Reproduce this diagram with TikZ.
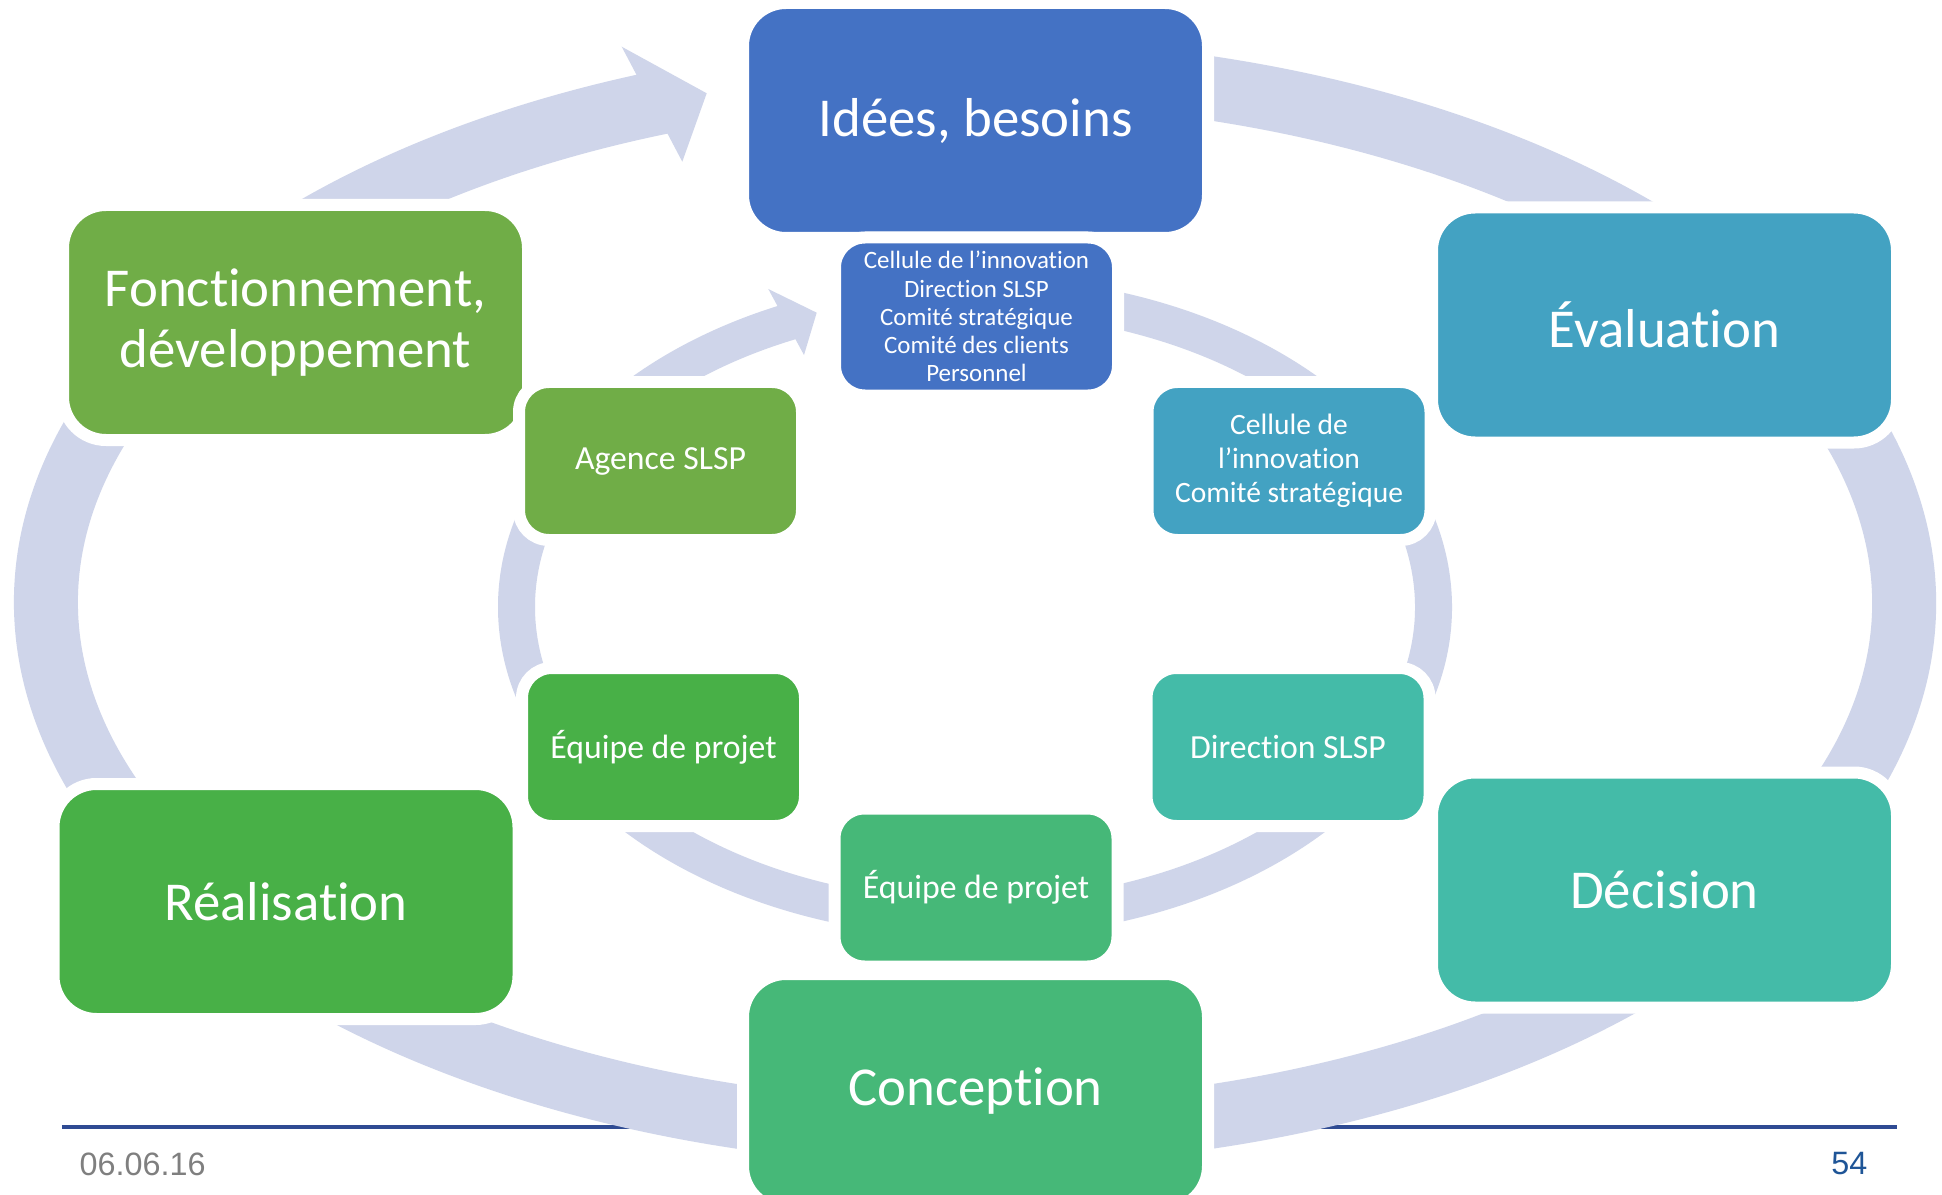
\documentclass[tikz,border=0pt]{standalone}
\usepackage{fontspec}
\setmainfont{Carlito}[Ligatures=NoCommon]
\newfontfamily\footfont{Liberation Sans}
\usepackage{xcolor}
\usetikzlibrary{positioning,calc}
\definecolor{ideeBlue}{HTML}{4472C4}
\definecolor{evalTeal}{HTML}{43A2C2}
\definecolor{decTeal}{HTML}{44BBA8}
\definecolor{concGreen}{HTML}{46B878}
\definecolor{realGreen}{HTML}{48B047}
\definecolor{fonctGreen}{HTML}{70AD47}
\definecolor{ringLav}{HTML}{CFD5EA}
\definecolor{footNavy}{HTML}{2F4B93}
\definecolor{footGrey}{HTML}{7F7F7F}
\definecolor{pageBlue}{HTML}{1F5597}

\begin{document}
\begin{tikzpicture}[
  stage/.style={rectangle, rounded corners=0.43cm, draw=white, line width=0.12cm,
    minimum width=4.65cm, minimum height=2.35cm, inner sep=0pt, align=center,
    text=white, font=\fontsize{15.6}{17.4}\selectfont},
  actor/.style={rectangle, rounded corners=0.30cm, draw=white, line width=0.12cm,
    minimum width=2.83cm, minimum height=1.58cm, inner sep=0pt, align=center,
    text=white, font=\fontsize{9.6}{11.5}\selectfont},
  ring/.style={draw=ringLav, line width=#1},
]

%% COPY-START =========================================================

\def\pageW{19.42}
\def\pageH{11.94}
\def\oRx{9.29}        % outer ring, x radius
\def\oRy{5.315}       % outer ring, y radius
\def\iRx{4.585}       % inner ring, x radius
\def\iRy{3.12}        % inner ring, y radius

% --- PAGE ---
\useasboundingbox (0,0) rectangle (\pageW,\pageH);
\clip (0,0) rectangle (\pageW,\pageH);
\fill[white] (0,0) rectangle (\pageW,\pageH);

% --- FOOTER RULE (runs under the rings) ---
\coordinate (footL) at (0.62,0.67);
\coordinate (footR) at (18.97,0.67);
\draw[footNavy, line width=1pt] (footL) -- (footR);

% --- OUTER RING: clockwise, arrow head before the first stage ---
\coordinate (outerC) at (9.75,5.915);
\draw[ring=0.64cm]
  ([shift={(100:\oRx cm and \oRy cm)}]outerC)
  arc[start angle=100, end angle=-250.5, x radius=\oRx cm, y radius=\oRy cm];
\fill[ringLav] (6.217,11.473) -- (7.067,11.007) -- (6.823,10.323) -- cycle;

% --- INNER RING ---
\coordinate (innerC) at (9.75,5.87);
\draw[ring=0.37cm]
  ([shift={(95:\iRx cm and \iRy cm)}]innerC)
  arc[start angle=95, end angle=-246.7, x radius=\iRx cm, y radius=\iRy cm];
\fill[ringLav] (7.683,9.05) -- (8.167,8.813) -- (8.04,8.39) -- cycle;

% --- STAGES (outer boxes) ---
\node[stage, fill=ideeBlue]   (idees)          at (9.755,10.735) {Idées, besoins};
\node[stage, fill=evalTeal]   (evaluation)     at (16.645,8.69)  {Évaluation};
\node[stage, fill=decTeal]    (decision)       at (16.645,3.04)  {Décision};
\node[stage, fill=concGreen]  (conception)     at (9.755,1.025)  {Conception};
\node[stage, fill=realGreen]  (realisation)    at (2.86,2.925)   {Réalisation};
\node[stage, fill=fonctGreen] (fonctionnement) at (2.955,8.715)  {Fonctionnement,\\développement};

% --- ACTORS (inner boxes) ---
\node[actor, fill=ideeBlue, font=\fontsize{7.1}{8}\selectfont] (ideesActors) at (9.765,8.775)
  {Cellule de l’innovation\\Direction SLSP\\Comité stratégique\\Comité des clients\\Personnel};
\node[actor, fill=evalTeal, font=\fontsize{8.4}{9.7}\selectfont] (evalActors) at (12.89,7.33)
  {Cellule de\\l’innovation\\Comité stratégique};
\node[actor, fill=decTeal]    (decisionActors)    at (12.88,4.47)  {Direction SLSP};
\node[actor, fill=concGreen]  (conceptionActors)  at (9.76,3.065)  {Équipe de projet};
\node[actor, fill=realGreen]  (realisationActors) at (6.635,4.47)  {Équipe de projet};
\node[actor, fill=fonctGreen] (fonctActors)       at (6.605,7.33)  {Agence SLSP};

% --- FOOTER TEXT ---
\node[anchor=west, inner sep=0pt, font=\footfont\fontsize{9.2}{11}\selectfont, text=footGrey]
  (footDate) at (0.79,0.30) {06.06.16};
\node[anchor=east, inner sep=0pt, font=\footfont\fontsize{9.2}{11}\selectfont, text=pageBlue]
  (footPage) at (18.68,0.30) {54};

%% COPY-END ===========================================================

\end{tikzpicture}
\end{document}
